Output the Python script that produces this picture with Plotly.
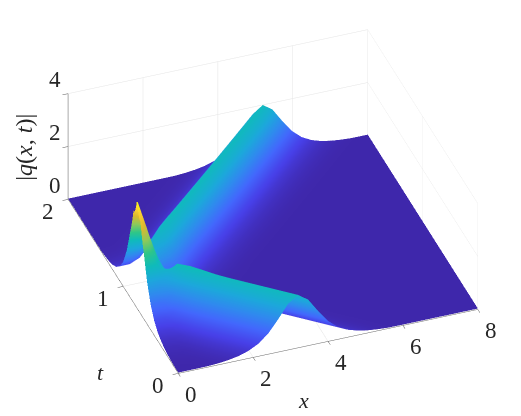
import plotly.graph_objects as go

# grid
x_vals = [i * 8 / 30 for i in range(31)]
t_vals = [j * 2 / 32 for j in range(33)]

# height profiles, one list per distance (in t steps) from the collision row
r0 = [4.1,2.94,1.036,.21,.605,.53,.314,.128,.018,.026,.032,.02,.012,.006,.003]+[0]*16
r1 = [3.49,2.756,1.374,.797,.781,.609,.362,.166,.066,.046,.037,.026,.014,.008,.004]+[0]*16
r2 = [2.468,2.187,1.733,1.481,1.219,.857,.516,.275,.145,.089,.059,.037,.019,.011,.007,.004,.002]+[0]*14
r3 = [1.552,1.492,1.579,1.844,1.732,1.281,.804,.465,.267,.158,.098,.058,.033,.019,.011,.007,.004,.002]+[0]*13
r4 = [.934,.927,1.135,1.653,1.992,1.772,1.25,.775,.461,.274,.164,.097,.056,.033,.019,.011,.007,.004,.002]+[0]*12
r5 = [.554,.556,.717,1.18,1.74,2.016,1.754,1.234,.77,.467,.277,.163,.096,.056,.033,.019,.011,.007,.004,.002]+[0]*11
r6 = [.326,.329,.432,.745,1.231,1.754,2.01,1.745,1.228,.776,.467,.277,.163,.096,.056,.033,.019,.011,.007,.004,.002]+[0]*10
r7 = [.192,.193,.257,.449,.776,1.234,1.745,2.0,1.745,1.234,.776,.467,.277,.163,.096,.056,.033,.019,.011,.007,.004,.002]+[0]*9
r8 = [.112,.115,.151,.266,.467,.776,1.234,1.745,2.0,1.745,1.234,.776,.467,.277,.163,.096,.056,.033,.019,.011,.007,.004,.002]+[0]*8
r9 = [.066,.068,.089,.156,.277,.467,.776,1.234,1.745,2.0,1.745,1.234,.776,.467,.277,.163,.096,.056,.033,.019,.011,.007,.004,.002]+[0]*7
r10 = [.038,.04,.056,.096,.163,.277,.467,.776,1.234,1.745,2.0,1.745,1.234,.776,.467,.277,.163,.096,.056,.033,.019,.011,.007,.004,.002]+[0]*6
r11 = [.022,.023,.033,.056,.096,.163,.277,.467,.776,1.234,1.745,2.0,1.745,1.234,.776,.467,.277,.163,.096,.056,.033,.019,.011,.007,.004,.002]+[0]*5
r12 = [.014,.014,.019,.033,.056,.096,.163,.277,.467,.776,1.234,1.745,2.0,1.745,1.234,.776,.467,.277,.163,.096,.056,.033,.019,.011,.007,.004,.002]+[0]*4
r13 = [.008,.008,.011,.019,.033,.056,.096,.163,.277,.467,.776,1.234,1.745,2.0,1.745,1.234,.776,.467,.277,.163,.096,.056,.033,.019,.011,.007,.004,.002]+[0]*3
r14 = [.004,.005,.007,.011,.019,.033,.056,.096,.163,.277,.467,.776,1.234,1.745,2.0,1.745,1.234,.776,.467,.277,.163,.096,.056,.033,.019,.011,.007,.004,.002]+[0]*2
r15 = [.002,.003,.004,.007,.011,.019,.033,.056,.096,.163,.277,.467,.776,1.234,1.745,2.0,1.745,1.234,.776,.467,.277,.163,.096,.056,.033,.019,.011,.007,.004,.002]+[0]
r16 = [0,.002,.002,.004,.007,.011,.019,.033,.056,.096,.163,.277,.467,.776,1.234,1.745,2.0,1.745,1.234,.776,.467,.277,.163,.096,.056,.033,.019,.011,.007,.004,.002]
r17 = [0,0,.002,.002,.004,.007,.011,.019,.033,.056,.096,.163,.277,.467,.776,1.234,1.745,2.0,1.745,1.234,.776,.467,.277,.163,.096,.056,.033,.019,.011,.007,.004]
r18 = [0,0,0,0,.002,.004,.007,.011,.019,.033,.056,.096,.163,.277,.467,.776,1.234,1.745,2.0,1.745,1.234,.776,.467,.277,.163,.096,.056,.033,.019,.011,.007]
r19 = [0,0,0,0,0,.002,.004,.007,.011,.019,.033,.056,.096,.163,.277,.467,.776,1.234,1.745,2.0,1.745,1.234,.776,.467,.277,.163,.096,.056,.033,.019,.011]
r20 = [0,0,0,0,0,0,.002,.004,.007,.011,.019,.033,.056,.096,.163,.277,.467,.776,1.234,1.745,2.0,1.745,1.234,.776,.467,.277,.163,.096,.056,.033,.019]

# rows just before the collision: dip, then the small hump on the outgoing ridge
b2 = [2.468,2.187,1.52,1.45,1.25,.857,.516,.275,.145,.089,.059,.037,.019,.011,.007,.004,.002]+[0]*14
b3 = [1.552,1.492,1.6,2.06,1.85,1.3,.804,.465,.267,.158,.098,.058,.033,.019,.011,.007,.004,.002]+[0]*13
b4 = [.934,.927,1.135,1.75,2.09,1.85,1.27,.775,.461,.274,.164,.097,.056,.033,.019,.011,.007,.004,.002]+[0]*12
b5 = [.554,.556,.717,1.18,1.78,2.05,1.77,1.234,.77,.467,.277,.163,.096,.056,.033,.019,.011,.007,.004,.002]+[0]*11

z_rows = [r12,r11,r10,r9,r8,r7,r6,b5,b4,b3,b2,r1,r0,
          r1,r2,r3,r4,r5,r6,r7,r8,r9,r10,r11,r12,r13,r14,r15,r16,r17,r18,r19,r20]
z_floor = 0.03
split_row = 12
squeeze_at_end = 0.975   # spacing of the x samples in the last row, relative to the first

x_ticks = [0, 2, 4, 6, 8]
t_ticks = [0, 1, 2]
z_ticks = [0, 2, 4]

parula = [[0.0,"#3e26a8"],[0.1,"#4740e8"],[0.2,"#4367fd"],[0.3,"#2f8bee"],[0.4,"#1ca8db"],
          [0.5,"#0fbbbb"],[0.6,"#2ec689"],[0.7,"#8fc95a"],[0.8,"#dbb92f"],[0.9,"#fcd030"],[1.0,"#f9fb15"]]

FONT = "Liberation Serif"
INK = "#262626"
GRID = "#e4e4e4"

def axis(ticks, rng, line="#777777", width=1.5):
    return dict(
        title=dict(text=""),
        range=rng, autorange=False, tickmode="array", tickvals=ticks,
        showticklabels=False,
        showgrid=True, gridcolor=GRID, gridwidth=1,
        showbackground=False, zeroline=False, showspikes=False,
        showline=True, linecolor=line, linewidth=width,
        ticks="outside", ticklen=6, tickcolor="#555555", tickwidth=1,
    )

def label(x, y, z, text, dx=0, dy=0, size=23, angle=0):
    return dict(x=x, y=y, z=z, text=text, showarrow=False, xshift=dx, yshift=dy, textangle=angle,
                font=dict(family=FONT, size=size, color=INK))

notes = []
notes += [label(v, 0, 0, str(v), dx=13, dy=-21) for v in x_ticks]
notes += [label(0, v, 0, str(v), dx=-20, dy=-12) for v in t_ticks]
notes += [label(0, 2, v, str(v), dx=-13, dy=14) for v in z_ticks]
notes.append(label(4, 0, 0, "<i>x</i>", dx=-25, dy=-59, size=22))
notes.append(label(0, 0.5, 0, "<i>t</i>", dx=-50, dy=-42, size=22))
notes.append(label(0, 2, 2, "|<i>q</i>(<i>x</i>, <i>t</i>)|", dx=-44, dy=-1, size=24, angle=-90))

heights = [[max(v, z_floor) for v in row] for row in z_rows]

def sheet(rows, ts, lead, steps):
    """One part of the surface, its columns slanted to follow the ridge: each row starts
    lead[j] cells left of x=0; cells beyond the axis range repeat the edge height and are clipped."""
    longest = len(x_vals) + max(lead) + 2
    xs, ys, zs = [], [], []
    for row, t, shift, dx in zip(rows, ts, lead, steps):
        idx = [c - shift for c in range(longest)]
        xs.append([i * dx for i in idx])
        ys.append([t] * longest)
        zs.append([row[min(max(i, 0), len(row) - 1)] for i in idx])
    return go.Surface(
        x=xs, y=ys, z=zs,
        colorscale=parula, cmin=0, cmax=4.05, showscale=False, hoverinfo="skip",
        lighting=dict(ambient=1, diffuse=0, specular=0, roughness=1, fresnel=0),
    )

n_before = split_row + 1
n_after = len(t_vals) - split_row
base_dx = x_vals[1] - x_vals[0]
fig = go.Figure([
    sheet(heights[:n_before], t_vals[:n_before], list(range(n_before)), [base_dx] * n_before),
    sheet(heights[split_row:], t_vals[split_row:], list(range(n_after - 1, -1, -1)),
          [base_dx * (1 - (1 - squeeze_at_end) * i / (n_after - 1)) for i in range(n_after)]),
])
fig.update_layout(
    width=521, height=416,
    margin=dict(l=0, r=0, t=0, b=0),
    paper_bgcolor="white",
    scene=dict(
        domain=dict(x=[0.048, 1], y=[0.04, 1]),
        aspectmode="manual", aspectratio=dict(x=1.6, y=1.6, z=0.651),
        camera=dict(projection=dict(type="orthographic"),
                    eye=dict(x=-0.2494, y=-0.7942, z=0.5566),
                    up=dict(x=0, y=0, z=1), center=dict(x=0.0316, y=-0.0302, z=-0.0244)),
        xaxis=axis(x_ticks, [0, 8], line="#666666", width=1),
        yaxis=axis(t_ticks, [0, 2], line="#666666", width=1),
        zaxis=axis(z_ticks, [0, 4], line="#aaaaaa", width=2),
        annotations=notes,
    ),
)
fig.write_html("out.html")
